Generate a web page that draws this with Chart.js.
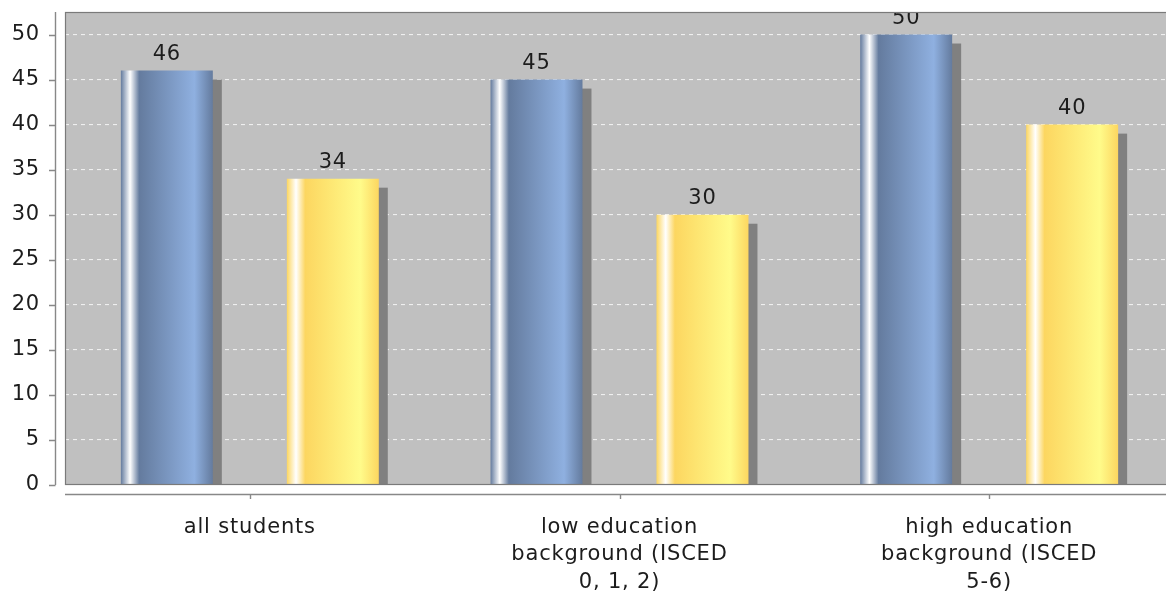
<!DOCTYPE html>
<html>
<head>
<meta charset="utf-8">
<script src="https://cdn.jsdelivr.net/npm/chart.js@4.4.1/dist/chart.umd.min.js"></script>
<style>
  html, body { margin: 0; padding: 0; background: #fff; overflow: hidden; }
  #wrap { position: relative; width: 1179px; height: 593px; }
</style>
</head>
<body>
<div id="wrap"><canvas id="chart" width="1179" height="593"></canvas></div>
<script>
// data
const categories = [
  ['all students'],
  ['low education', 'background (ISCED', '0, 1, 2)'],
  ['high education', 'background (ISCED', '5-6)'],
];
const seriesBlue = [46, 45, 50];
const seriesYellow = [34, 30, 40];
const yTicks = [0, 5, 10, 15, 20, 25, 30, 35, 40, 45, 50];

const CAT_PCT = 0.898;
const BAR_PCT = 0.554;
const FONT = { family: "'DejaVu Sans', sans-serif", size: 21, lineHeight: 1.3 };
const TEXT = '#1c1c1c';
const AXIS = '#888';

// jfreechart style gradient: c0 -> white -> c0 -> brighter -> c0
function barPaint(c0, c1) {
  return (ctx) => {
    const chart = ctx.chart;
    const xs = chart.scales.x;
    if (!xs || ctx.dataIndex === undefined) return c0;
    const cat = xs.width / categories.length;
    const slot = cat * CAT_PCT / 2;
    const w = slot * BAR_PCT;
    const cx = xs.getPixelForValue(ctx.dataIndex) + (ctx.datasetIndex - 0.5) * slot;
    const l = cx - w / 2;
    if (!isFinite(l) || !isFinite(w)) return c0;
    const g = chart.ctx.createLinearGradient(l, 0, l + w, 0);
    g.addColorStop(0, c0);
    g.addColorStop(0.1, '#ffffff');
    g.addColorStop(0.2, c0);
    g.addColorStop(0.8, c1);
    g.addColorStop(1, c0);
    return g;
  };
}

const jfreeLook = {
  id: 'jfreeLook',
  beforeUpdate(chart) {
    chart.ctx.letterSpacing = '0.8px';
  },
  beforeDraw(chart) {
    const { ctx, chartArea: a } = chart;
    ctx.letterSpacing = '0.8px';
    ctx.save();
    ctx.fillStyle = '#c0c0c0';
    ctx.fillRect(a.left, a.top, a.right - a.left, a.bottom - a.top);
    ctx.restore();
  },
  beforeDatasetsDraw(chart) {
    const { ctx, chartArea: a } = chart;
    ctx.save();
    ctx.beginPath();
    ctx.rect(a.left, a.top, a.right - a.left, a.bottom - a.top);
    ctx.clip();
    ctx.fillStyle = '#808080';
    chart.data.datasets.forEach((ds, i) => {
      chart.getDatasetMeta(i).data.forEach((bar) => {
        const { x, y, base, width } = bar.getProps(['x', 'y', 'base', 'width'], true);
        ctx.fillRect(x - width / 2 + 9, y + 9, width, base - y);
      });
    });
    ctx.restore();
  },
  afterDatasetsDraw(chart) {
    const { ctx, chartArea: a, scales } = chart;

    // value labels, clipped to the plot like the original
    ctx.save();
    ctx.beginPath();
    ctx.rect(a.left, a.top, a.right - a.left, a.bottom - a.top);
    ctx.clip();
    ctx.font = `${FONT.size}px ${FONT.family}`;
    ctx.fillStyle = TEXT;
    ctx.textAlign = 'center';
    ctx.textBaseline = 'alphabetic';
    chart.data.datasets.forEach((ds, i) => {
      chart.getDatasetMeta(i).data.forEach((bar, j) => {
        ctx.fillText(String(ds.data[j]), bar.x, bar.y - 11);
      });
    });
    ctx.restore();

    // plot outline
    ctx.save();
    ctx.strokeStyle = '#7a7a7a';
    ctx.lineWidth = 1.2;
    ctx.strokeRect(a.left + 0.5, a.top + 0.5, a.right - a.left, a.bottom - a.top - 1);

    // value axis, offset from the plot
    ctx.strokeStyle = AXIS;
    ctx.lineWidth = 1.4;
    ctx.beginPath();
    ctx.moveTo(55.5, a.top);
    ctx.lineTo(55.5, a.bottom);
    yTicks.forEach((v) => {
      const y = Math.round(scales.y.getPixelForValue(v)) + 0.5;
      ctx.moveTo(49, y);
      ctx.lineTo(55.5, y);
    });
    ctx.stroke();

    // category axis
    ctx.beginPath();
    ctx.moveTo(a.left, a.bottom + 9.5);
    ctx.lineTo(a.right, a.bottom + 9.5);
    categories.forEach((c, i) => {
      const x = Math.round(scales.x.getPixelForValue(i)) + 0.5;
      ctx.moveTo(x, a.bottom + 9.5);
      ctx.lineTo(x, a.bottom + 14);
    });
    ctx.stroke();
    ctx.restore();
  },
};

new Chart(document.getElementById('chart'), {
  type: 'bar',
  data: {
    labels: categories,
    datasets: [
      {
        label: 'series 1',
        data: seriesBlue,
        backgroundColor: barPaint('rgb(100,123,158)', 'rgb(143,176,224)'),
        borderWidth: 0,
      },
      {
        label: 'series 2',
        data: seriesYellow,
        backgroundColor: barPaint('rgb(252,214,96)', 'rgb(255,251,138)'),
        borderWidth: 0,
      },
    ],
  },
  options: {
    responsive: false,
    animation: false,
    devicePixelRatio: 1,
    categoryPercentage: CAT_PCT,
    barPercentage: BAR_PCT,
    layout: { padding: { top: 12, right: 5, left: 0, bottom: 0 } },
    plugins: {
      legend: { display: false },
      tooltip: { enabled: false },
    },
    scales: {
      x: {
        offset: true,
        grid: { display: false, drawTicks: false },
        border: { display: false },
        ticks: {
          font: FONT,
          color: TEXT,
          padding: 29,
          maxRotation: 0,
          autoSkip: false,
        },
        afterFit: (s) => {
          s.height = 108;
          s.paddingLeft = 0;
          s.paddingRight = 0;
        },
      },
      y: {
        min: 0,
        max: 52.5,
        grid: { color: 'rgba(255,255,255,0.75)', lineWidth: 1.1, drawTicks: false },
        border: { display: false, dash: [4, 4] },
        ticks: {
          stepSize: 5,
          includeBounds: false,
          padding: 25,
          font: FONT,
          color: TEXT,
        },
        afterFit: (s) => {
          s.width = 65;
          s.paddingTop = 0;
          s.paddingBottom = 0;
        },
      },
    },
  },
  plugins: [jfreeLook],
});
</script>
</body>
</html>
